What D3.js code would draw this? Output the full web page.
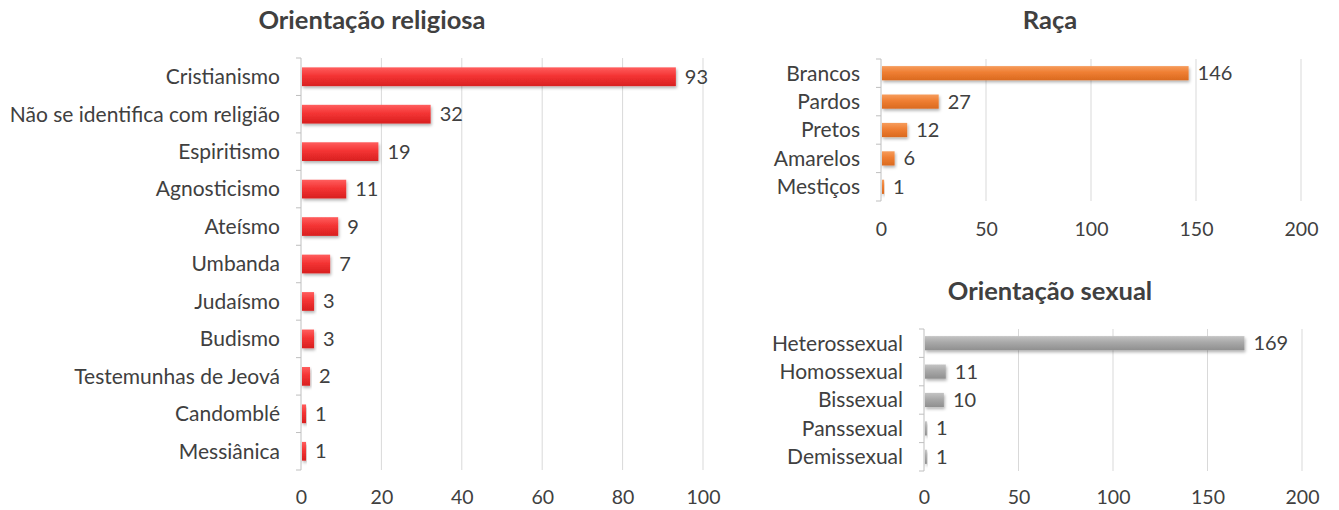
<!DOCTYPE html>
<html>
<head>
<meta charset="utf-8">
<script src="https://cdn.jsdelivr.net/npm/d3@7"></script>
<style>
body { margin: 0; background: #fff; }
svg text { font-family: Lato, "Open Sans", sans-serif; fill: #404040; }
.grid line { stroke: #d9d9d9; }
.title { font-weight: bold; }
</style>
</head>
<body>
<div id="chart"></div>
<script>
// dados
var religiaoCats = ["Cristianismo", "Não se identifica com religião", "Espiritismo", "Agnosticismo", "Ateísmo", "Umbanda", "Judaísmo", "Budismo", "Testemunhas de Jeová", "Candomblé", "Messiânica"];
var religiaoVals = [93, 32, 19, 11, 9, 7, 3, 3, 2, 1, 1];
var religiaoTicks = [0, 20, 40, 60, 80, 100];

var racaCats = ["Brancos", "Pardos", "Pretos", "Amarelos", "Mestiços"];
var racaVals = [146, 27, 12, 6, 1];
var racaTicks = [0, 50, 100, 150, 200];

var sexualCats = ["Heterossexual", "Homossexual", "Bissexual", "Panssexual", "Demissexual"];
var sexualVals = [169, 11, 10, 1, 1];
var sexualTicks = [0, 50, 100, 150, 200];

var svg = d3.select("#chart").append("svg")
	.attr("width", 1339)
	.attr("height", 510);

var defs = svg.append("defs");
var sombra = defs.append("filter").attr("id", "sombra")
	.attr("x", "-10%").attr("y", "-40%").attr("width", "130%").attr("height", "200%");
sombra.append("feDropShadow")
	.attr("dx", 1).attr("dy", 2).attr("stdDeviation", 1.5)
	.attr("flood-color", "#000").attr("flood-opacity", 0.3);

function gradiente(id, c1, c2, c3) {
	var g = defs.append("linearGradient").attr("id", id)
		.attr("x1", 0).attr("y1", 0).attr("x2", 0).attr("y2", 1);
	g.append("stop").attr("offset", "0%").attr("stop-color", c1);
	g.append("stop").attr("offset", "45%").attr("stop-color", c2);
	g.append("stop").attr("offset", "100%").attr("stop-color", c3);
}
gradiente("gVermelho", "#ff5e5e", "#f43434", "#d82020");
gradiente("gLaranja", "#f69c5c", "#ef7e32", "#da6a20");
gradiente("gCinza", "#c4c4c4", "#a8a8a8", "#8f8f8f");

function desenha(cfg) {
	var x = d3.scaleLinear().domain(cfg.domain).range([cfg.x0, cfg.x1]);
	var y = d3.scaleBand().domain(cfg.cats).range([cfg.y0, cfg.y1]).paddingInner(0.5).paddingOuter(0.25);
	var band = d3.scaleBand().domain(cfg.cats).range([cfg.y0, cfg.y1]);

	var g = svg.append("g");

	// título
	g.append("text")
		.attr("class", "title")
		.attr("x", cfg.titleX)
		.attr("y", cfg.titleY)
		.attr("text-anchor", "middle")
		.style("font-size", "25.5px")
		.text(cfg.title);

	// grade
	g.append("g").attr("class", "grid")
		.selectAll("line")
		.data(cfg.ticks.slice(1))
		.enter().append("line")
		.attr("x1", function(d) { return x(d); })
		.attr("x2", function(d) { return x(d); })
		.attr("y1", cfg.y0)
		.attr("y2", cfg.y1);

	// eixo x (só rótulos)
	var ax = g.append("g")
		.attr("transform", "translate(0," + cfg.tickY + ")")
		.call(d3.axisBottom(x).tickValues(cfg.ticks).tickSize(0).tickPadding(0));
	ax.select(".domain").remove();
	ax.selectAll("text")
		.style("font-size", "19.5px")
		.attr("dy", "0.35em");

	// eixo y
	g.append("line")
		.attr("x1", x(0)).attr("x2", x(0))
		.attr("y1", cfg.y0).attr("y2", cfg.y1)
		.attr("stroke", "#bfbfbf");
	g.selectAll(".ytick")
		.data(cfg.cats.concat(["_fim"]))
		.enter().append("line")
		.attr("class", "ytick")
		.attr("x1", x(0) - 5).attr("x2", x(0))
		.attr("y1", function(d, i) { return i < cfg.cats.length ? band(d) : cfg.y1; })
		.attr("y2", function(d, i) { return i < cfg.cats.length ? band(d) : cfg.y1; })
		.attr("stroke", "#bfbfbf");

	g.selectAll(".cat")
		.data(cfg.cats)
		.enter().append("text")
		.attr("class", "cat")
		.attr("x", x(0) - 21)
		.attr("y", function(d) { return y(d) + y.bandwidth() / 2; })
		.attr("dy", "0.35em")
		.attr("text-anchor", "end")
		.style("font-size", "21px")
		.text(function(d) { return d; });

	// barras
	g.selectAll(".bar")
		.data(cfg.vals)
		.enter().append("rect")
		.attr("class", "bar")
		.attr("x", x(0) + 1)
		.attr("y", function(d, i) { return y(cfg.cats[i]); })
		.attr("width", function(d) { return Math.max(1, x(d) - x(0)); })
		.attr("height", y.bandwidth())
		.attr("fill", cfg.fill)
		.attr("filter", "url(#sombra)");

	g.selectAll(".val")
		.data(cfg.vals)
		.enter().append("text")
		.attr("class", "val")
		.attr("x", function(d) { return x(d) + 10; })
		.attr("y", function(d, i) { return y(cfg.cats[i]) + y.bandwidth() / 2; })
		.attr("dy", "0.35em")
		.style("font-size", "20px")
		.text(function(d) { return d; });
}

desenha({
	title: "Orientação religiosa", titleX: 372, titleY: 29,
	cats: religiaoCats, vals: religiaoVals, ticks: religiaoTicks,
	domain: [0, 100], x0: 301, x1: 703, y0: 58, y1: 470, tickY: 497,
	fill: "url(#gVermelho)"
});

desenha({
	title: "Raça", titleX: 1050, titleY: 29,
	cats: racaCats, vals: racaVals, ticks: racaTicks,
	domain: [0, 200], x0: 881, x1: 1301, y0: 59, y1: 201, tickY: 229,
	fill: "url(#gLaranja)"
});

desenha({
	title: "Orientação sexual", titleX: 1050, titleY: 300,
	cats: sexualCats, vals: sexualVals, ticks: sexualTicks,
	domain: [0, 200], x0: 924, x1: 1302, y0: 329, y1: 471, tickY: 497,
	fill: "url(#gCinza)"
});
</script>
</body>
</html>
